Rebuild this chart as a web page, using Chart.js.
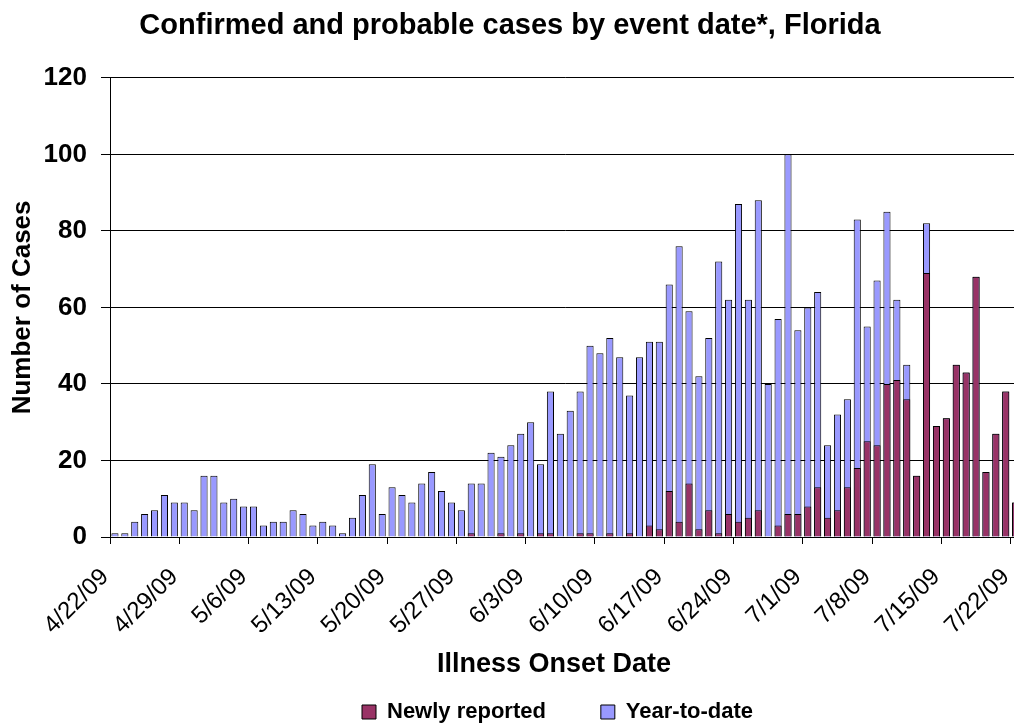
<!DOCTYPE html>
<html>
<head>
<meta charset="utf-8">
<script src="https://cdn.jsdelivr.net/npm/chart.js@4/dist/chart.umd.min.js"></script>
<style>
  html, body { margin: 0; padding: 0; background: #fff; overflow: hidden; }
  #wrap { position: relative; width: 1055px; height: 724px; }
</style>
</head>
<body>
<div id="wrap"><canvas id="myChart"></canvas></div>
<script>
// one bar per day, 4/22/09 onward
const categories = [];
for (let i = 0; i < 92; i++) {
    const d = new Date(Date.UTC(2009, 3, 22 + i));
    categories.push((d.getUTCMonth() + 1) + '/' + d.getUTCDate() + '/09');
}

const tickLabels = ['4/22/09', '4/29/09', '5/6/09', '5/13/09', '5/20/09', '5/27/09', '6/3/09',
    '6/10/09', '6/17/09', '6/24/09', '7/1/09', '7/8/09', '7/15/09', '7/22/09'];

const newlyReported = [
    0, 0, 0, 0, 0, 0, 0, 0, 0, 0, 0, 0, 0, 0,
    0, 0, 0, 0, 0, 0, 0, 0, 0, 0, 0, 0, 0, 0,
    0, 0, 0, 0, 0, 0, 0, 0, 1, 0, 0, 1, 0, 1,
    0, 1, 1, 0, 0, 1, 1, 0, 1, 0, 1, 0, 3, 2,
    12, 4, 14, 2, 7, 1, 6, 4, 5, 7, 0, 3, 6, 6,
    8, 13, 5, 7, 13, 18, 25, 24, 40, 41, 36, 16, 69, 29,
    31, 45, 43, 68, 17, 27, 38, 9
];

const yearToDate = [
    1, 1, 4, 6, 7, 11, 9, 9, 7, 16, 16, 9, 10, 8,
    8, 3, 4, 4, 7, 6, 3, 4, 3, 1, 5, 11, 19, 6,
    13, 11, 9, 14, 17, 12, 9, 7, 14, 14, 22, 21, 24, 27,
    30, 19, 38, 27, 33, 38, 50, 48, 52, 47, 37, 47, 51, 51,
    66, 76, 59, 42, 52, 72, 62, 87, 62, 88, 40, 57, 100, 54,
    60, 64, 24, 32, 36, 83, 55, 67, 85, 62, 45, 16, 82, 29,
    31, 45, 43, 68, 17, 27, 38, 9
];

const yMax = 120;
const yStep = 20;

const FONT = "'Liberation Sans', Arial, sans-serif";
Chart.defaults.font.family = FONT;
Chart.defaults.color = '#000';

// the original is cropped on the right, so put title and legend where they sit there
const placeBlocks = {
    id: 'placeBlocks',
    afterLayout(chart) {
        chart.titleBlock.left = 0;
        chart.titleBlock.right = 1020;
        chart.legend.left = 356;
        chart.legend.top = 695;
    }
};

const chart = new Chart('myChart', {
    type: 'bar',
    data: {
        labels: categories,
        datasets: [{
            label: 'Newly reported' + '\u00a0'.repeat(8),
            data: newlyReported.map(v => v || null),
            backgroundColor: '#993366',
            borderColor: '#000',
            borderWidth: 1,
            grouped: false,
            barPercentage: 0.72,
            categoryPercentage: 1
        }, {
            label: 'Year-to-date',
            data: yearToDate,
            backgroundColor: '#9999ff',
            borderColor: '#000',
            borderWidth: 1,
            grouped: false,
            barPercentage: 0.72,
            categoryPercentage: 1
        }]
    },
    options: {
        responsive: true,
        maintainAspectRatio: false,
        animation: false,
        layout: { padding: 0 },
        plugins: {
            title: {
                display: true,
                text: 'Confirmed and probable cases by event date*, Florida',
                font: { size: 29, weight: 'bold' },
                color: '#000',
                padding: { top: 9, bottom: 34 }
            },
            legend: {
                position: 'bottom',
                align: 'start',
                labels: {
                    boxWidth: 14,
                    boxHeight: 14,
                    padding: 6,
                    color: '#000',
                    font: { size: 22, weight: 'bold' }
                }
            },
            tooltip: { enabled: false }
        },
        scales: {
            x: {
                offset: true,
                grid: {
                    offset: true,
                    drawOnChartArea: false,
                    tickLength: 7,
                    tickColor: ctx => tickLabels.includes(categories[ctx.index]) ? '#000' : 'rgba(0,0,0,0)'
                },
                border: { color: '#000', width: 1 },
                ticks: {
                    autoSkip: false,
                    minRotation: 45,
                    maxRotation: 45,
                    padding: 19,
                    labelOffset: -10,
                    font: { size: 24 },
                    color: '#000',
                    callback: function (val, i) {
                        const lab = categories[i];
                        return tickLabels.includes(lab) ? lab : '';
                    }
                },
                title: {
                    display: true,
                    text: 'Illness Onset Date' + '\u00a0'.repeat(3),
                    font: { size: 27, weight: 'bold' },
                    color: '#000',
                    padding: { top: 0, bottom: 5 }
                },
                afterFit: s => { s.height = s.chart.height - 537 - s.chart.legend.height; }
            },
            y: {
                min: 0,
                max: yMax,
                ticks: {
                    stepSize: yStep,
                    padding: 14,
                    font: { size: 26, weight: 'bold' },
                    color: '#000'
                },
                grid: { color: '#000', tickLength: 9, lineWidth: 1 },
                border: { color: '#000', width: 1 },
                title: {
                    display: true,
                    text: 'Number of Cases',
                    font: { size: 26, weight: 'bold' },
                    color: '#000',
                    padding: { top: 7, bottom: 0 }
                },
                afterFit: s => { s.width = 110; }
            }
        }
    },
    plugins: [placeBlocks]
});
</script>
</body>
</html>
